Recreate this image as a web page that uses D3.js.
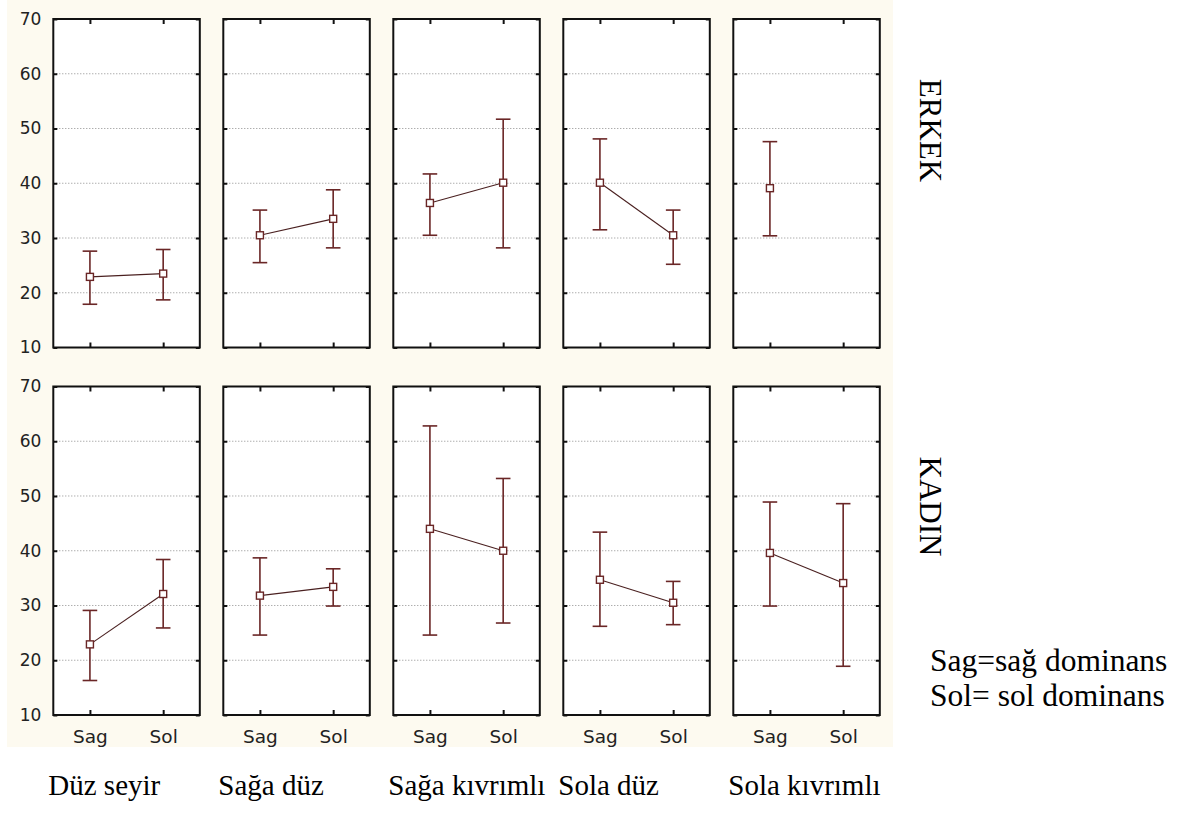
<!DOCTYPE html>
<html><head><meta charset="utf-8">
<script src="https://cdn.jsdelivr.net/npm/d3@7"></script>
<style>body{margin:0;background:#fff} svg{display:block}</style>
</head><body>
<svg id="c" width="1194" height="814"></svg>
<script>
const columns = ["Düz seyir","Sağa düz","Sağa kıvrımlı","Sola düz","Sola kıvrımlı"];
const rows = ["ERKEK","KADIN"];
const groups = ["Sag","Sol"];
const yTicks = [10,20,30,40,50,60,70];
const gridValues = [20,30,40,50,60];
const erkekMean  = [[22.9,23.5],[30.5,33.5],[36.4,40.1],[40.1,30.5],[39.1,null]];
const erkekLower = [[17.9,18.7],[25.5,28.2],[30.5,28.2],[31.5,25.2],[30.4,null]];
const erkekUpper = [[27.6,27.9],[35.1,38.8],[41.7,51.7],[48.1,35.1],[47.6,null]];
const kadinMean  = [[22.9,32.1],[31.8,33.4],[44.0,40.0],[34.7,30.5],[39.6,34.1]];
const kadinLower = [[16.3,25.9],[24.6,29.9],[24.6,26.8],[26.2,26.5],[29.9,18.9]];
const kadinUpper = [[29.1,38.4],[38.7,36.7],[62.8,53.2],[43.4,34.4],[48.9,48.6]];
const legendLines = ["Sag=sağ dominans","Sol= sol dominans"];

const rowData = [
  {mean: erkekMean, lower: erkekLower, upper: erkekUpper},
  {mean: kadinMean, lower: kadinLower, upper: kadinUpper}
];

const svg = d3.select("#c");
const MAROON = "#6a2626";
const SANS = "'DejaVu Sans', sans-serif";
const SERIF = "'Liberation Serif', 'Times New Roman', serif";

svg.append("rect").attr("x",7).attr("y",0).attr("width",886).attr("height",747).attr("fill","#fdfaf0");

const xCol = d3.scaleBand().domain(columns).range([53.3, 879.8]).paddingInner(0.1382).paddingOuter(0);
const yRow = d3.scaleBand().domain(rows).range([19, 715]).paddingInner(0.1061).paddingOuter(0);
const bw = xCol.bandwidth(), bh = yRow.bandwidth();
const xi = d3.scalePoint().domain(groups).range([0, bw]).padding(0.5);
const y = d3.scaleLinear().domain([10,70]).range([bh, 0]);
const rowLabelOffset = [111.5, 120];

rows.forEach((row, ri) => {
  const rd = rowData[ri];
  columns.forEach((col, ci) => {
    const g = svg.append("g").attr("transform", `translate(${xCol(col)},${yRow(row)})`);
    g.append("rect").attr("width", bw).attr("height", bh).attr("fill", "#fff");
    g.selectAll("line.grid").data(gridValues).join("line").attr("class","grid")
      .attr("x1", 0).attr("x2", bw).attr("y1", d => y(d)).attr("y2", d => y(d))
      .attr("stroke", "#8c8c8c").attr("stroke-width", 1).attr("stroke-dasharray", "1,2");
    const pts = groups.map((gr, gi) => ({g: gr, m: rd.mean[ci][gi], lo: rd.lower[ci][gi], hi: rd.upper[ci][gi]}))
      .filter(p => p.m !== null);
    g.append("path").datum(pts)
      .attr("d", d3.line().x(p => xi(p.g)).y(p => y(p.m)))
      .attr("fill","none").attr("stroke", "#4a2020").attr("stroke-width", 1.1);
    const eb = g.selectAll("g.eb").data(pts).join("g").attr("class","eb");
    eb.append("line").attr("x1", p => xi(p.g)).attr("x2", p => xi(p.g))
      .attr("y1", p => y(p.lo)).attr("y2", p => y(p.hi))
      .attr("stroke", MAROON).attr("stroke-width", 1.6);
    eb.append("line").attr("x1", p => xi(p.g) - 7.3).attr("x2", p => xi(p.g) + 7.3)
      .attr("y1", p => y(p.hi)).attr("y2", p => y(p.hi))
      .attr("stroke", MAROON).attr("stroke-width", 1.6);
    eb.append("line").attr("x1", p => xi(p.g) - 7.3).attr("x2", p => xi(p.g) + 7.3)
      .attr("y1", p => y(p.lo)).attr("y2", p => y(p.lo))
      .attr("stroke", MAROON).attr("stroke-width", 1.6);
    eb.append("rect").attr("x", p => xi(p.g) - 3.5).attr("y", p => y(p.m) - 3.5)
      .attr("width", 7).attr("height", 7)
      .attr("fill", "#fff").attr("stroke", MAROON).attr("stroke-width", 1.4);
    const tk = (sel) => { sel.select(".domain").remove(); sel.selectAll(".tick line").attr("stroke","#111").attr("stroke-width",2); sel.selectAll("text").remove(); };
    g.append("g").call(d3.axisRight(y).tickValues(yTicks).tickSize(4)).call(tk);
    g.append("g").attr("transform", `translate(${bw},0)`).call(d3.axisLeft(y).tickValues(yTicks).tickSize(4)).call(tk);
    g.append("g").call(d3.axisBottom(xi).tickSize(5)).call(tk);
    g.append("g").attr("transform", `translate(0,${bh})`).call(d3.axisTop(xi).tickSize(5)).call(tk);
    g.append("rect").attr("width", bw).attr("height", bh).attr("fill", "none")
      .attr("stroke", "#111").attr("stroke-width", 2);
    if (ci === 0) {
      const ax = g.append("g").call(d3.axisLeft(y).tickValues(yTicks).tickSize(0).tickPadding(12));
      ax.select(".domain").remove();
      ax.selectAll("text").attr("font-family", SANS).style("font-size", "17px").attr("fill", "#222");
    }
    if (ri === rows.length - 1) {
      const ax = g.append("g").attr("transform", `translate(0,${bh})`)
        .call(d3.axisBottom(xi).tickSize(0).tickPadding(15));
      ax.select(".domain").remove();
      ax.selectAll("text").attr("font-family", SANS).style("font-size", "18.5px").attr("fill", "#222");
    }
  });
  svg.append("text").attr("transform", `translate(920,${yRow(row) + rowLabelOffset[ri]}) rotate(90)`)
    .attr("text-anchor","middle").attr("font-family", SERIF).attr("font-size", 31).attr("fill","#000")
    .text(row);
});

svg.selectAll("text.col").data(columns).join("text").attr("class","col")
  .attr("x", d => xCol(d) - 5).attr("y", 795)
  .attr("font-family", SERIF).attr("font-size", 29).attr("fill","#000")
  .text(d => d);

svg.selectAll("text.leg").data(legendLines).join("text").attr("class","leg")
  .attr("x", 930).attr("y", (d,i) => 671 + i*35)
  .attr("font-family", SERIF).attr("font-size", 31.5).attr("fill","#000")
  .text(d => d);
</script>
</body></html>
